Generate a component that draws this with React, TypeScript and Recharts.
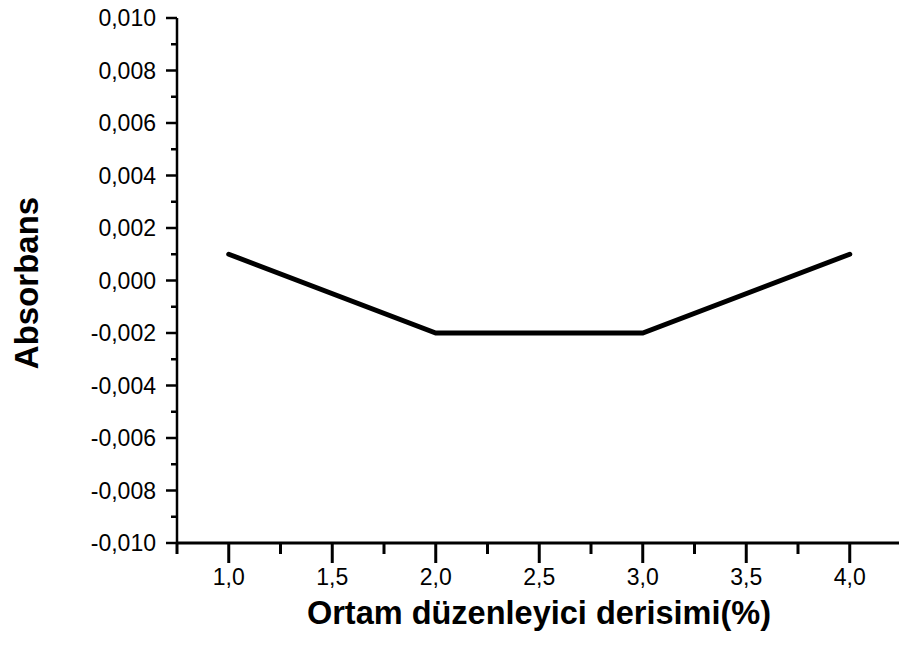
import React from "react";
import { LineChart, Line, XAxis, YAxis } from "recharts";

// concentration (%) vs absorbance
const concentrations = [1.0, 2.0, 3.0, 4.0];
const absorbance = [0.001, -0.002, -0.002, 0.001];

const xMajorTicks = [1.0, 1.5, 2.0, 2.5, 3.0, 3.5, 4.0];
const xMinorTicks = [0.75, 1.25, 1.75, 2.25, 2.75, 3.25, 3.75, 4.25];
const yMajorTicks = [-0.01, -0.008, -0.006, -0.004, -0.002, 0, 0.002, 0.004, 0.006, 0.008, 0.01];
const yMinorTicks = [-0.009, -0.007, -0.005, -0.003, -0.001, 0.001, 0.003, 0.005, 0.007, 0.009];

const xTitle = "Ortam düzenleyici derisimi(%)";
const yTitle = "Absorbans";

const data = concentrations.map((c, i) => ({ c, a: absorbance[i] }));

const FONT = "'Liberation Sans', Arial, Helvetica, sans-serif";

const isMajor = (list: number[], v: number) => list.some((m) => Math.abs(m - v) < 1e-9);
const comma = (v: number, digits: number) => v.toFixed(digits).replace(".", ",");

function XTick(props: any) {
  const { x, y, payload } = props;
  const major = isMajor(xMajorTicks, payload.value);
  return (
    <g>
      <line x1={x} x2={x} y1={y} y2={y + (major ? 20 : 11)} stroke="#000" strokeWidth={3} />
      {major && (
        <text x={x} y={y + 42} textAnchor="middle" fontSize={23} fontFamily={FONT} fill="#000">
          {comma(payload.value, 1)}
        </text>
      )}
    </g>
  );
}

function YTick(props: any) {
  const { x, y, payload } = props;
  const major = isMajor(yMajorTicks, payload.value);
  return (
    <g>
      <line x1={x} x2={x - (major ? 11 : 6)} y1={y} y2={y} stroke="#000" strokeWidth={2.5} />
      {major && (
        <text x={x - 21} y={y} dy="0.36em" textAnchor="end" fontSize={23} fontFamily={FONT} fill="#000">
          {comma(payload.value, 3)}
        </text>
      )}
    </g>
  );
}

export default function App() {
  return (
    <div style={{ position: "absolute", left: 0, top: 0, width: 899, height: 648, overflow: "hidden", background: "#fff" }}>
      <LineChart width={910} height={648} data={data} margin={{ top: 18, right: 8.5, bottom: 0, left: 0 }}>
        <XAxis
          dataKey="c"
          type="number"
          domain={[0.75, 4.25]}
          ticks={[...xMinorTicks, ...xMajorTicks].sort((a, b) => a - b)}
          interval={0}
          tick={<XTick />}
          tickSize={0}
          tickMargin={0}
          tickLine={false}
          axisLine={{ stroke: "#000", strokeWidth: 3 }}
          height={105}
          label={() => (
            <text
              x={539}
              y={624}
              textAnchor="middle"
              fontSize={32.5}
              fontWeight="bold"
              fontFamily={FONT}
              fill="#000"
            >
              {xTitle}
            </text>
          )}
        />
        <YAxis
          type="number"
          domain={[-0.01, 0.01]}
          ticks={[...yMinorTicks, ...yMajorTicks].sort((a, b) => a - b)}
          interval={0}
          tick={<YTick />}
          tickSize={0}
          tickMargin={0}
          tickLine={false}
          axisLine={{ stroke: "#000", strokeWidth: 2.5 }}
          width={177}
          label={() => (
            <text
              x={38}
              y={283}
              transform="rotate(-90 38 283)"
              textAnchor="middle"
              fontSize={33}
              fontWeight="bold"
              fontFamily={FONT}
              fill="#000"
            >
              {yTitle}
            </text>
          )}
        />
        <Line
          type="linear"
          dataKey="a"
          stroke="#000"
          strokeWidth={5}
          strokeLinecap="round"
          dot={false}
          activeDot={false}
          isAnimationActive={false}
        />
      </LineChart>
    </div>
  );
}
